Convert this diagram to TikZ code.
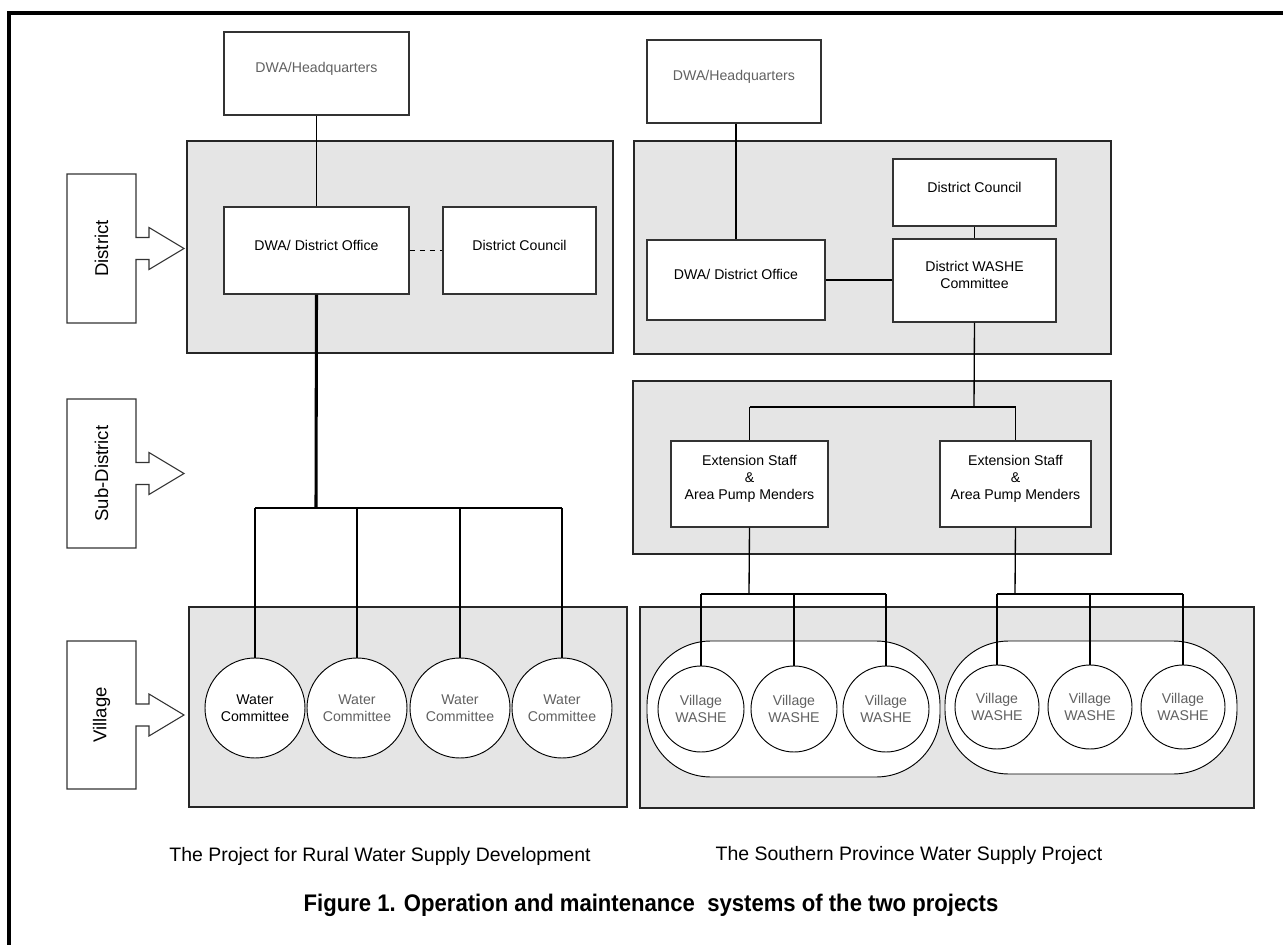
\documentclass[tikz,border=0pt]{standalone}
\usepackage{fontspec}
\setmainfont{Liberation Sans}
\usetikzlibrary{fit}
\newcommand\boxfont{\fontsize{10.6}{12.75}\selectfont}
\newcommand\lvlfont{\fontsize{13.9}{16}\selectfont}
\newcommand\capfont{\fontsize{14.6}{17}\selectfont}
\newcommand\lvl[4]{%
  \pgfmathsetmacro\lc{(#2+#3)/2}%
  \draw[lvlshape] (67,#2) -- (136,#2) -- (136,{\lc-11}) -- (149,{\lc-11}) -- (149,{\lc-21})
    -- (184,\lc) -- (149,{\lc+21}) -- (149,{\lc+11}) -- (136,{\lc+11}) -- (136,#3) -- (67,#3) -- cycle;
  \node[rotate=90, font=\lvlfont] (#1) at (101.5,\lc) {#4};}
\begin{document}
\begin{tikzpicture}[x=0.75pt,y=-0.75pt,
  panel/.style={draw=black!85, fill=black!10, line width=0.9pt},
  box/.style={draw=black!80, fill=white, line width=0.8pt, inner sep=0pt, align=center, font=\boxfont},
  circ/.style={circle, draw=black, fill=white, line width=0.7pt, inner sep=0pt, align=center, font=\fontsize{10.6}{12.4}\selectfont},
  stadium/.style={draw=black, fill=white, line width=0.7pt, rounded corners=48pt},
  lvlshape/.style={draw=black!80, fill=white, line width=0.8pt},
  conn/.style={line width=1pt},
  midconn/.style={line width=1.6pt},
  thickconn/.style={line width=2.3pt},
  dashconn/.style={line width=1.3pt, dash pattern=on 4pt off 3.5pt},
  graytext/.style={text=black!62},
]
\useasboundingbox (0,0) rectangle (1283,945);
\clip (0,0) rectangle (1283,945);
\fill[white] (0,0) rectangle (1283,945);
\draw[line width=2.4pt] (9,13) rectangle (1320,980);

% level labels
\lvl{lvlD}{174}{323}{District}
\lvl{lvlS}{399}{548}{Sub-District}
\lvl{lvlV}{641}{789}{Village}

% panels
\draw[panel] (187,141) rectangle (613,353);
\draw[panel] (189,607) rectangle (627,807);
\draw[panel] (634,141) rectangle (1111,354);
\draw[panel] (633,381) rectangle (1111,554);
\draw[panel] (640,607) rectangle (1254,808);
\draw[stadium] (647,641) rectangle (940,777);
\draw[stadium] (945,641) rectangle (1237,774);

% left project
\node[box, graytext, fit={(224,32) (409,115)}] (hqL) {DWA/Headquarters};
\node[box, fit={(224,207) (409,294)}] (dwaL) {DWA/ District Office};
\node[box, fit={(443,207) (596,294)}] (dcL) {District Council};
\node[circ, minimum size=75pt] (wc1) at (255,708) {Water\\Committee};
\node[circ, graytext, minimum size=75pt] (wc2) at (357,708) {Water\\Committee};
\node[circ, graytext, minimum size=75pt] (wc3) at (460,708) {Water\\Committee};
\node[circ, graytext, minimum size=75pt] (wc4) at (562,708) {Water\\Committee};
\coordinate (busL) at (316,508);

\draw[conn] (hqL.south) -- (dwaL.north);
\draw[dashconn] (dwaL.east) -- (dcL.west);
\draw[thickconn] (dwaL.south) -- (busL);
\draw[midconn] (wc1.north |- busL) -- (wc4.north |- busL);
\foreach \w in {wc1,wc2,wc3,wc4} \draw[conn] (\w.north |- busL) -- (\w.north);

% right project
\node[box, graytext, fit={(647,40) (821,123)}] (hqR) {DWA/Headquarters};
\node[box, fit={(647,240) (825,320)}] (dwaR) {DWA/ District Office};
\node[box, fit={(893,159) (1056,226)}] (dcR) {District Council};
\node[box, fit={(893,239) (1056,322)}] (washe) {District WASHE\\Committee};
\node[box, fit={(671,441) (828,527)}] (ext1) {Extension Staff\\\&\\Area Pump Menders};
\node[box, fit={(940,441) (1091,527)}] (ext2) {Extension Staff\\\&\\Area Pump Menders};
\node[circ, graytext, minimum size=64.5pt] (vw1) at (701,709) {Village\\WASHE};
\node[circ, graytext, minimum size=64.5pt] (vw2) at (794,709) {Village\\WASHE};
\node[circ, graytext, minimum size=64.5pt] (vw3) at (886,709) {Village\\WASHE};
\node[circ, graytext, minimum size=63pt] (vw4) at (997,707) {Village\\WASHE};
\node[circ, graytext, minimum size=63pt] (vw5) at (1090,707) {Village\\WASHE};
\node[circ, graytext, minimum size=63pt] (vw6) at (1183,707) {Village\\WASHE};
\coordinate (busR) at (974,407);
\coordinate (busV1) at (749,594);
\coordinate (busV2) at (1015,594);

\draw[conn] (hqR.south -| 736,0) -- (dwaR.north -| 736,0);
\draw[midconn] (dwaR.east) -- (washe.west |- dwaR.east);
\draw[conn] (dcR.south) -- (washe.north);
\draw[conn] (washe.south) -- (busR);
\draw[conn] (ext1.north |- busR) -- (ext2.north |- busR);
\draw[conn] (ext1.north |- busR) -- (ext1.north);
\draw[conn] (ext2.north |- busR) -- (ext2.north);
\draw[conn] (ext1.south) -- (busV1);
\draw[conn] (ext2.south) -- (busV2);
\draw[conn] (vw1.north |- busV1) -- (vw3.north |- busV1);
\draw[conn] (vw4.north |- busV2) -- (vw6.north |- busV2);
\foreach \w in {vw1,vw2,vw3} \draw[conn] (\w.north |- busV1) -- (\w.north);
\foreach \w in {vw4,vw5,vw6} \draw[conn] (\w.north |- busV2) -- (\w.north);

% captions
\node[font=\capfont] (capL) at (380,856) {The Project for Rural Water Supply Development};
\node[font=\capfont] (capR) at (909,855) {The Southern Province Water Supply Project};
\node[font=\fontsize{18}{21}\selectfont\bfseries] (title) at (651,905)
  {\resizebox{521pt}{\height}{Figure 1. Operation and maintenance\ \ systems of the two projects}};
\end{tikzpicture}
\end{document}
